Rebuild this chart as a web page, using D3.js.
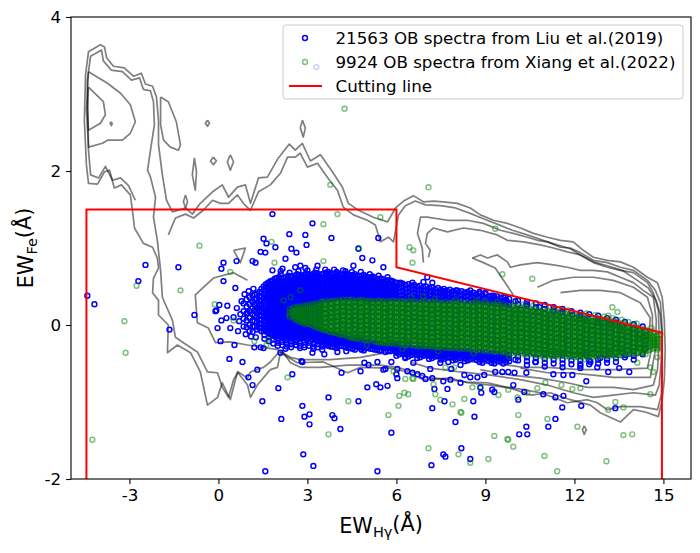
<!DOCTYPE html>
<html>
<head>
<meta charset="utf-8">
<title>EW Hgamma vs EW Fe</title>
<script src="https://cdn.jsdelivr.net/npm/d3@7"></script>
<style>
  body { margin: 0; background: #fff; }
  text { font-family: "DejaVu Sans", sans-serif; }
</style>
</head>
<body>
<script>
// ---- data ----
var xTicks = [-3, 0, 3, 6, 9, 12, 15];
var yTicks = [-2, 0, 2, 4];

var legendLabels = [
  "21563 OB spectra from Liu et al.(2019)",
  "9924 OB spectra from Xiang et al.(2022)",
  "Cutting line"
];

// red cutting line vertices (EW_Hg, EW_Fe)
var cutLine = [[-4.45, -2], [-4.45, 1.5], [6, 1.5], [6, 0.75], [14.95, -0.1], [14.95, -2]];

// density contour lines
var contours = [
  [[-4.45,2.08],[-4.52,2.66],[-4.48,3.25],[-4.38,3.55],[-3.98,3.64],[-3.84,3.61],[-3.77,3.47],[-3.54,3.36],[-3.17,3.34],[-2.86,3.23],[-2.60,3.27],[-2.46,3.13],[-2.22,3.10],[-2.09,2.96],[-2.02,2.66],[-2.02,2.34],[-1.89,1.95],[-1.75,1.62],[-1.55,1.47],[-1.11,1.52],[-0.88,1.44],[-0.61,1.58],[-0.20,1.73],[0.13,1.82],[0.34,1.66],[0.64,1.79],[0.91,1.82],[1.08,1.58],[1.35,1.91],[1.65,1.92],[2.02,2.17],[2.39,2.35],[2.59,2.27],[2.83,2.36],[3.10,2.13],[3.44,2.21],[3.84,1.99],[4.18,1.79],[4.38,1.58],[4.72,1.49],[5.22,1.40],[5.70,1.34],[5.97,1.52],[6.24,1.61],[6.57,1.68],[6.91,1.60],[7.25,1.61],[7.58,1.60],[8.05,1.58],[8.49,1.52],[8.83,1.43],[9.27,1.36],[9.74,1.32],[10.18,1.26],[10.62,1.19],[11.09,1.14],[11.53,1.10],[11.96,1.08],[12.30,0.97],[12.64,0.88],[13.11,0.84],[13.55,0.82],[13.99,0.75],[14.46,0.62],[14.80,0.55],[14.96,0.36],[15.03,0.06],[15.06,-0.32],[15.03,-0.71],[14.96,-0.97],[14.83,-1.19],[14.39,-1.13],[13.99,-1.10],[13.55,-1.26],[12.87,-1.14],[12.54,-1.04],[11.86,-0.97],[11.19,-0.88],[10.52,-0.91],[9.84,-0.82],[9.17,-0.78],[8.39,-0.75],[7.82,-0.69],[6.91,-0.71],[6.37,-0.61],[5.80,-0.56],[4.79,-0.55],[4.35,-0.62],[3.54,-0.48],[2.66,-0.49],[2.09,-0.36],[1.99,-0.55],[1.75,-0.58],[1.31,-0.78],[1.08,-0.94],[0.98,-0.78],[0.64,-0.61],[0.40,-0.97],[0.13,-0.75],[-0.03,-0.94],[-0.37,-1.04],[-0.61,-0.61],[-0.94,-0.36],[-1.38,-0.26],[-1.72,-0.36],[-1.69,0.00],[-2.02,0.13],[-2.02,0.32],[-2.22,0.42],[-2.19,0.61],[-2.02,0.74],[-2.06,0.87],[-2.22,1.01],[-2.53,1.06],[-2.83,1.26],[-2.90,1.49],[-2.97,1.69],[-3.27,1.82],[-3.51,1.78],[-3.67,2.01],[-3.84,1.99],[-4.08,1.83],[-4.38,1.84],[-4.45,2.08]],
  [[-2.80,1.62],[-3.03,1.81],[-3.30,1.91],[-3.57,1.88],[-3.81,2.06],[-4.04,1.91],[-4.31,1.95],[-4.38,2.27],[-4.42,3.18],[-4.31,3.49],[-3.94,3.57],[-3.88,3.43],[-3.61,3.31],[-3.24,3.29],[-2.93,3.18],[-2.66,3.21],[-2.53,3.06],[-2.29,3.04],[-2.19,2.90],[-2.16,2.60],[-2.29,2.27],[-2.39,2.01],[-2.29,1.92],[-2.12,1.66],[-2.19,1.40],[-2.06,1.10],[-1.95,0.71],[-1.89,0.36],[-1.55,0.06],[-1.45,-0.16],[-1.18,-0.23],[-0.71,-0.35],[-0.37,-0.61],[-0.03,-0.62],[0.13,-0.81],[0.34,-0.94],[0.51,-0.71],[0.67,-0.61],[0.98,-0.69],[1.08,-0.61],[1.52,-0.55],[1.75,-0.48],[2.02,-0.36],[2.19,-0.36],[2.43,-0.49],[2.76,-0.55],[3.44,-0.55],[4.35,-0.52],[5.46,-0.52],[6.03,-0.55],[6.57,-0.61],[7.04,-0.68],[7.72,-0.71],[8.39,-0.74],[9.07,-0.75],[9.74,-0.81],[10.28,-0.84],[10.85,-0.88],[11.29,-0.94],[11.76,-1.01],[12.44,-0.97],[12.77,-1.01],[13.11,-1.10],[13.55,-1.06],[14.22,-1.06],[14.80,-1.10],[14.93,-0.91],[14.96,-0.58],[14.96,-0.19],[14.90,0.13],[14.76,0.32],[14.49,0.48],[14.12,0.58],[13.61,0.71],[13.11,0.77],[12.64,0.82],[12.20,0.91],[11.86,0.99],[11.42,1.04],[11.02,1.09],[10.41,1.17],[9.91,1.23],[9.40,1.31],[8.93,1.38],[8.49,1.45],[7.99,1.52],[7.48,1.55],[6.98,1.56],[6.64,1.61],[6.30,1.55],[6.07,1.43],[5.90,1.08],[5.73,1.14],[5.46,1.08],[5.29,1.30],[5.02,1.36],[4.55,1.43],[4.21,1.53],[4.01,1.75],[3.67,1.92],[3.34,2.10],[3.00,2.05],[2.76,2.23],[2.59,2.18],[2.33,2.18],[2.09,1.97],[1.75,1.82],[1.35,1.73],[1.08,1.49],[0.84,1.58],[0.64,1.69],[0.34,1.58],[0.07,1.58],[-0.20,1.62],[-0.51,1.49],[-0.84,1.39],[-1.11,1.44],[-1.45,1.39],[-1.69,1.17]],
  [[-4.38,3.29],[-3.74,3.14],[-3.30,3.01],[-2.97,2.86],[-2.80,2.64],[-2.97,2.49],[-3.24,2.40],[-3.74,2.40],[-3.91,2.36],[-4.38,2.31],[-4.45,2.79],[-4.38,3.29]],
  [[-4.38,3.09],[-3.88,2.90],[-3.81,2.73],[-3.98,2.62],[-4.38,2.53],[-4.42,2.82],[-4.38,3.09]],
  [[-3.63,2.64],[-3.58,2.62],[-3.61,2.59],[-3.65,2.62],[-3.63,2.64]],
  [[0.98,0.58],[0.51,0.68],[-0.17,0.61],[-0.78,0.39],[-0.71,0.03],[-0.34,-0.04],[-0.10,-0.23],[0.40,-0.22],[0.98,-0.26],[1.52,-0.29],[1.99,-0.32],[2.43,-0.42],[2.76,-0.45],[3.77,-0.45],[4.79,-0.42],[5.80,-0.35],[6.81,-0.39]],
  [[0.51,0.97],[0.91,1.00],[0.74,0.81],[0.51,0.97]],
  [[6.91,0.81],[6.87,1.00],[6.71,1.19],[6.81,1.40],[7.04,1.40],[7.72,1.36],[8.39,1.36],[8.93,1.32],[9.50,1.23],[9.94,1.19],[10.41,1.14],[10.75,1.10],[11.09,1.08],[11.53,1.01],[11.86,1.00],[12.20,0.94],[12.64,0.84],[13.11,0.81],[13.55,0.75],[13.99,0.71],[14.46,0.58],[14.73,0.45],[14.90,0.29],[14.96,-0.06],[14.93,-0.45],[14.86,-0.78],[14.73,-0.91],[13.99,-0.88],[13.31,-0.91],[12.64,-0.94],[11.96,-0.88],[11.09,-0.78],[10.18,-0.71],[9.17,-0.65],[8.16,-0.61],[7.14,-0.56],[6.47,-0.48]],
  [[7.08,0.88],[7.14,0.97],[6.98,1.06],[7.04,1.19],[7.25,1.26],[7.72,1.21],[8.26,1.26],[8.83,1.23],[9.40,1.17],[9.74,1.10],[10.28,1.08],[10.85,1.04],[11.29,1.00],[11.76,0.95],[12.20,0.91],[12.64,0.81],[13.11,0.75],[13.55,0.71],[13.99,0.68],[14.46,0.55],[14.66,0.42],[14.83,0.19],[14.86,-0.19],[14.80,-0.58],[14.66,-0.78],[13.99,-0.84],[13.31,-0.81],[12.44,-0.81],[11.76,-0.75],[10.85,-0.69],[9.84,-0.65],[8.83,-0.58]],
  [[8.56,0.87],[8.83,0.91],[9.07,0.87],[9.40,0.91],[9.74,0.82],[9.84,0.75],[10.18,0.78],[10.75,0.81],[11.29,0.78],[11.76,0.75],[12.20,0.71],[12.64,0.71],[13.11,0.69],[13.55,0.62],[13.99,0.55],[14.32,0.45],[14.66,0.36],[14.76,0.06],[14.73,-0.32],[14.56,-0.68],[14.22,-0.68],[13.31,-0.68],[12.64,-0.65],[11.76,-0.62],[11.09,-0.62],[10.18,-0.56]],
  [[8.56,0.87],[8.93,0.81],[9.33,0.74],[9.61,0.58],[9.94,0.39]],
  [[10.75,0.49],[11.29,0.58],[11.96,0.62],[12.64,0.62],[13.31,0.58],[13.99,0.49],[14.46,0.36],[14.63,0.13],[14.63,-0.26],[14.46,-0.56],[13.31,-0.58],[12.20,-0.58],[11.09,-0.55],[10.28,-0.55],[9.74,-0.52],[8.83,-0.49],[7.72,-0.45],[6.91,-0.42],[6.13,-0.30],[5.46,-0.29]],
  [[11.53,0.42],[12.20,0.45],[12.87,0.45],[13.55,0.42],[14.22,0.29],[14.56,0.09],[14.49,-0.19],[14.22,-0.39],[13.55,-0.42],[12.87,-0.40],[12.20,-0.39],[11.53,-0.35]],
  [[-0.81,2.17],[-0.74,1.99],[-0.78,1.75],[-0.88,1.95],[-0.81,2.17]],
  [[-0.17,2.18],[-0.07,2.13],[-0.17,2.08],[-0.27,2.13],[-0.17,2.18]],
  [[0.40,2.21],[0.51,2.12],[0.40,2.01],[0.30,2.12],[0.40,2.21]],
  [[-0.37,2.66],[-0.30,2.62],[-0.37,2.58],[-0.44,2.62],[-0.37,2.66]],
  [[2.83,2.66],[2.93,2.56],[2.86,2.44],[2.76,2.56],[2.83,2.66]],
  [[-1.95,2.96],[-1.69,2.90],[-1.42,2.64],[-1.28,2.34],[-1.35,2.27],[-1.62,2.31],[-1.85,2.40],[-1.95,2.60],[-1.95,2.96]],
  [[-1.11,1.69],[-1.04,1.60],[-1.11,1.52],[-1.18,1.60],[-1.11,1.69]],
  [[12.33,-1.31],[12.40,-1.36],[12.33,-1.42],[12.27,-1.36],[12.33,-1.31]]
];

// Liu et al. (2019) - individual points
var liuPoints = [
  [-4.42,0.38],[-4.18,0.27],[-2.70,0.57],[-2.46,0.78],[-1.35,0.75],[-1.65,-0.06],[-0.81,0.13],[1.82,1.44],[2.39,1.18],[2.93,1.17],
  [1.52,1.12],[1.62,1.06],[1.92,1.01],[1.42,0.95],[1.58,0.94],[2.46,0.99],[2.63,0.94],[0.17,0.81],[0.10,0.73],[0.61,0.83],
  [1.15,0.83],[1.25,0.81],[1.82,0.71],[2.16,0.73],[2.59,0.75],[2.76,0.77],[2.93,0.74],[0.17,0.57],[0.57,0.48],[0.03,0.26],
  [0.30,0.25],[-0.07,0.19],[0.10,0.06],[-0.03,-0.04],[0.27,0.09],[0.51,0.10],[0.74,0.14],[0.54,-0.26],[0.07,-0.21],[0.37,-0.44],
  [0.81,-0.48],[1.01,-0.68],[1.15,-0.78],[2.02,-0.82],[2.49,-0.64],[2.80,-0.47],[3.17,1.32],[3.81,1.13],[2.97,1.04],[2.26,0.86],
  [4.85,0.87],[5.19,0.84],[5.39,1.13],[5.56,0.75],[4.72,0.99],[3.34,0.77],[3.98,0.69],[4.28,0.70],[4.55,0.77],[-0.10,0.18],
  [0.40,-0.04],[0.98,0.16],[1.21,-0.29],[1.42,-0.29],[1.52,-0.30],[2.09,-0.36],[2.26,-0.31],[2.63,-0.26],[2.83,-0.48],[3.17,-0.36],
  [3.57,-0.38],[4.01,-0.35],[4.15,-0.62],[4.31,-0.34],[4.55,-0.23],[4.92,-0.49],[5.06,-0.52],[5.36,-0.48],[5.56,-0.58],[5.83,-0.48],
  [1.31,-0.58],[1.48,-0.99],[2.12,-1.22],[2.83,-1.05],[2.90,-1.19],[3.07,-1.16],[3.07,-1.29],[3.71,-0.94],[3.84,-1.17],[3.91,-1.21],
  [4.11,-1.35],[4.72,-0.99],[5.02,-0.81],[5.32,-0.77],[5.46,-0.81],[6.03,-0.69],[5.83,-1.40],[2.86,-1.68],[3.20,-1.83],[1.58,-1.90],
  [5.36,-1.90],[7.21,-1.08],[7.18,-1.82],[7.58,-1.68],[7.65,-1.71],[8.19,-1.60],[7.99,-1.26],[8.63,-1.19],[8.86,-0.88],[8.49,-0.68],
  [8.16,-0.75],[7.82,-0.71],[7.58,-0.73],[7.21,-0.69],[6.87,-0.66],[4.79,-0.60],[5.63,-0.57],[6.00,-0.64],[6.37,-0.60],[6.54,-0.62],
  [6.71,-0.64],[7.14,-0.57],[7.85,-0.57],[8.29,-0.65],[7.62,-0.99],[7.72,-0.83],[8.59,-0.99],[8.49,-1.74],[10.14,-1.42],[10.41,-1.42],
  [10.38,-1.32],[11.12,-1.32],[11.36,-1.22],[11.59,-1.07],[12.23,-1.05],[13.38,-1.08],[13.14,-0.61],[12.40,-0.73],[11.36,-0.94],[11.63,-0.92],
  [10.95,-0.90],[10.31,-0.87],[10.11,-0.97],[9.94,-0.78],[9.30,-0.87],[9.23,-0.84],[8.83,-0.81],[7.28,-0.83],[6.98,-0.70],[5.70,-0.79],
  [13.85,-0.61],[13.51,-0.56],[12.77,-0.55],[12.20,-0.53],[11.93,-0.65],[11.63,-0.65],[11.29,-0.64],[10.38,-0.62],[9.98,-0.62],[9.77,-0.61],
  [9.57,-0.61],[9.33,-0.61],[8.96,-0.65],[8.73,-0.68],[8.16,-0.52],[7.75,-0.48],[7.48,-0.49],[6.57,-0.49],[6.30,-0.43],[6.00,-0.35],
  [5.63,-0.35],[6.03,-0.57],[3.30,3.35],[5.70,0.58],[6.13,0.55],[6.54,0.55],[6.91,0.56],[7.21,0.55],[7.58,0.44],[8.05,0.45],
  [8.49,0.45],[8.80,0.43],[9.00,0.42],[9.27,0.38],[9.67,0.36],[10.01,0.31],[10.38,0.27],[10.82,0.23],[11.29,0.17],[11.53,0.16],
  [11.93,0.13],[12.33,0.08],[12.77,0.03],[13.21,0.00],[13.55,-0.04],[14.32,-0.16],[7.04,0.62],[12.87,-0.43],[13.72,-0.39],[14.39,-0.30],
  [10.68,-0.48],[10.01,-0.45],[8.49,-0.39],[7.14,-0.35],[12.54,-0.48],
  [0.62,0.22],[0.70,0.05],[0.78,0.31],[0.66,-0.08],[0.88,0.40],[0.92,-0.12],[1.02,0.44],[1.10,-0.15],[1.18,0.47],[1.26,-0.16]
];

// Liu et al. (2019) - dense core, one column per EW_Hg value: [x, y, y, ...]
var liuCore = [
  [0.85,.28,.18,.08,-.02],[0.95,.33,.24,.15,.06,-.03],[1.05,.36,.27,.18,.09,.00,-.08],
  [1.15,.38,.30,.22,.14,.06,-.02,-.09],[1.22,.40,.33,.26,.19,.12,.05,-.02],
  [1.30,.40,.34,.28,.22,.16,.10,.04,-.02,-.06],
  [1.375,.43,.37,.31,.25,.19,.13,.07,.01,-.04],
  [1.45,.47,.42,.37,.32,.27,.22,.17,.12,.07,.02,-.03,-.08],
  [1.525,.50,.45,.40,.35,.30,.25,.20,.15,.10,.05,.00,-.05,-.08],
  [1.60,.53,.49,.45,.41,.37,.33,.29,.25,.21,.17,.13,.09,.05,.01,-.03,-.08],
  [1.675,.55,.51,.47,.43,.39,.35,.31,.27,.23,.19,.15,.11,.07,.03,-.01,-.05,-.10],
  [1.75,.57,.53,.49,.45,.41,.37,.33,.29,.25,.21,.17,.13,.09,.05,.01,-.03,-.07,-.12],
  [1.825,.58,.54,.50,.46,.42,.38,.34,.30,.26,.22,.18,.14,.10,.06,.02,-.02,-.06,-.10,-.13],
  [1.90,.60,.56,.52,.48,.44,.40,.36,.32,.28,.24,.20,.16,.12,.08,.04,.00,-.04,-.08,-.12,-.15],
  [1.975,.61,.57,.53,.49,.45,.41,.37,.33,.29,.25,.21,.17,.13,.09,.05,.01,-.03,-.07,-.11,-.15],
  [2.05,.62,.58,.54,.50,.46,.42,.38,.34,.30,.26,.22,.18,.14,.10,.06,.02,-.02,-.06,-.10,-.14],
  [2.125,.60,.56,.52,.48,.44,.40,.36,.32,.28,.24,.20,.16,.12,.08,.04,.00,-.04,-.08,-.12,-.16],
  [2.20,.61,.57,.53,.49,.45,.41,.37,.33,.29,.25,.21,.17,.13,.09,.05,.01,-.03,-.07,-.11,-.15,-.18],
  [2.275,.62,.58,.54,.50,.46,.42,.38,.34,.30,.26,.22,.18,.14,.10,.06,.02,-.02,-.06,-.10,-.14,-.17],
  [2.35,.64,.60,.56,.52,.48,.44,.40,.36,.32,.28,.24,.20,.16,.12,.08,.04,.00,-.04,-.08,-.12,-.15],
  [2.425,.63,.59,.55,.51,.47,.43,.39,.35,.31,.27,.23,.19,.15,.11,.07,.03,-.01,-.05,-.09,-.13,-.16],
  [2.50,.62,.58,.54,.50,.46,.42,.38,.34,.30,.26,.22,.18,.14,.10,.06,.02,-.02,-.06,-.10,-.14,-.17],
  [2.575,.64,.60,.56,.52,.48,.44,.40,.36,.32,.28,.24,.20,.16,.12,.08,.04,.00,-.04,-.08,-.12,-.16],
  [2.65,.66,.62,.58,.54,.50,.46,.42,.38,.34,.30,.26,.22,.18,.14,.10,.06,.02,-.02,-.06,-.10,-.14,-.19],
  [2.725,.65,.61,.57,.53,.49,.45,.41,.37,.33,.29,.25,.21,.17,.13,.09,.05,.01,-.03,-.07,-.11,-.15,-.18],
  [2.80,.63,.59,.55,.51,.47,.43,.39,.35,.31,.27,.23,.19,.15,.11,.07,.03,-.01,-.05,-.09,-.13,-.16],
  [2.875,.65,.61,.57,.53,.49,.45,.41,.37,.33,.29,.25,.21,.17,.13,.09,.05,.01,-.03,-.07,-.11,-.15,-.17],
  [2.95,.67,.63,.59,.55,.51,.47,.43,.39,.35,.31,.27,.23,.19,.15,.11,.07,.03,-.01,-.05,-.09,-.13,-.18],
  [3.025,.66,.62,.58,.54,.50,.46,.42,.38,.34,.30,.26,-.02,-.06,-.10,-.14,-.18],
  [3.10,.64,.60,.56,.52,.48,.44,.40,.36,.32,.28,.24,.20,.16,.12,.08,.04,.00,-.04,-.08,-.12,-.16,-.21],
  [3.175,.66,.62,.58,.54,.50,.46,.42,.38,.34,.30,-.03,-.07,-.11,-.15,-.19],
  [3.25,.68,.64,.60,.56,.52,.48,.44,.40,.36,.32,.28,.24,.20,.16,.12,.08,.04,.00,-.04,-.08,-.12,-.17],
  [3.325,.67,.63,.59,.55,.51,.47,.43,.39,.35,.31,-.05,-.09,-.13,-.17,-.21],
  [3.40,.65,.61,.57,.53,.49,.45,.41,.37,.33,.29,.25,.21,.17,.13,.09,.05,.01,-.03,-.07,-.11,-.15,-.20],
  [3.475,.66,.62,.58,.54,.50,.46,.42,.38,.34,-.06,-.10,-.14,-.18,-.22],
  [3.55,.66,.62,.58,.54,.50,.46,.42,.38,.34,-.09,-.13,-.17,-.21,-.25],
  [3.625,.68,.64,.60,.56,.52,.48,.44,.40,.36,-.10,-.14,-.18,-.22,-.26],
  [3.70,.69,.65,.61,.57,.53,.49,.45,.41,.37,.34,-.11,-.15,-.19,-.23,-.27],
  [3.775,.67,.63,.59,.55,.51,.47,.43,.39,.35,-.12,-.16,-.20,-.24,-.28],
  [3.85,.66,.62,.58,.54,.50,.46,.42,.38,.35,-.12,-.16,-.20,-.24,-.28],
  [3.925,.67,.63,.59,.55,.51,.47,.43,.39,.35,-.13,-.17,-.21,-.25,-.29],
  [4.00,.68,.64,.60,.56,.52,.48,.44,.40,.36,-.14,-.18,-.22,-.26,-.30],
  [4.075,.66,.62,.58,.54,.50,.46,.42,.38,.35,-.15,-.19,-.23,-.27],
  [4.15,.65,.61,.57,.53,.49,.45,.41,.37,.35,-.15,-.19,-.23,-.27],
  [4.225,.66,.62,.58,.54,.50,.46,.42,.38,.35,-.16,-.20,-.24,-.28],
  [4.30,.67,.63,.59,.55,.51,.47,.43,.39,.36,-.17,-.21,-.25,-.29],
  [4.375,.65,.61,.57,.53,.49,.45,.41,.37,-.18,-.22,-.26,-.30],
  [4.45,.64,.60,.56,.52,.48,.44,.40,.36,-.18,-.22,-.26,-.30],
  [4.525,.65,.61,.57,.53,.49,.45,.41,.37,-.19,-.23,-.27,-.31],
  [4.60,.66,.62,.58,.54,.50,.46,.42,.38,.35,-.20,-.24,-.28,-.32],
  [4.675,.64,.60,.56,.52,.48,.44,.40,.36,-.20,-.24,-.28],
  [4.75,.63,.59,.55,.51,.47,.43,.39,.35,-.21,-.25,-.29],
  [4.825,.64,.60,.56,.52,.48,.44,.40,.36,-.21,-.25,-.29,-.32],
  [4.90,.65,.61,.57,.53,.49,.45,.41,.37,.34,-.22,-.26,-.30,-.33],
  [4.975,.63,.59,.55,.51,.47,.43,.39,.35,-.22,-.26,-.30],
  [5.05,.61,.57,.53,.49,.45,.41,.37,.34,-.22,-.26,-.30],
  [5.125,.62,.58,.54,.50,.46,.42,.38,.34,-.23,-.27,-.31],
  [5.20,.63,.59,.55,.51,.47,.43,.39,.35,-.23,-.27,-.31],
  [5.275,.61,.57,.53,.49,.45,.41,.37,.34,-.24,-.28,-.32],
  [5.35,.59,.55,.51,.47,.43,.39,.35,-.24,-.28,-.32],
  [5.425,.60,.56,.52,.48,.44,.40,.36,-.25,-.29,-.33],
  [5.50,.60,.56,.52,.48,.44,.40,.36,.33,-.25,-.29,-.33],
  [5.575,.59,.55,.51,.47,.43,.39,.35,-.26,-.30],
  [5.65,.57,.53,.49,.45,.41,.37,.34,-.26,-.30],
  [5.725,.58,.54,.50,.46,.42,.38,.34,-.26,-.30,-.34],
  [5.80,.58,.54,.50,.46,.42,.38,.34,-.26,-.30,-.34],
  [5.875,.57,.53,.49,.45,.41,.37,.34,-.27,-.31],
  [5.95,.55,.51,.47,.43,.39,.35,-.27,-.31],
  [6.0,.55,.50,.45,.40,.35,-.28,-.32,-.36,-.40],
  [6.1,.53,.48,.43,.38,.34,-.30,-.34,-.38],
  [6.2,.54,.49,.44,.39,.34,-.29,-.33,-.37],
  [6.3,.52,.47,.42,.37,.33,-.30,-.34,-.38,-.42],
  [6.4,.53,.48,.43,.38,.34,-.29,-.33,-.37,-.41],
  [6.5,.51,.46,.41,.36,.33,-.31,-.35,-.39],
  [6.6,.52,.47,.42,.37,.33,-.30,-.34,-.38],
  [6.7,.50,.45,.40,.35,-.31,-.35,-.39,-.43],
  [6.8,.51,.46,.41,.36,.33,-.30,-.34,-.38,-.42],
  [6.9,.49,.44,.39,.34,-.32,-.36,-.40],
  [7.0,.50,.45,.40,.35,-.31,-.35,-.39],
  [7.1,.48,.43,.38,.33,-.32,-.36,-.40,-.44],
  [7.2,.49,.44,.39,.34,-.31,-.35,-.39,-.43],
  [7.3,.47,.42,.37,.33,-.33,-.37,-.41],
  [7.4,.48,.43,.38,.33,-.32,-.36,-.40],
  [7.5,.46,.41,.36,.32,-.33,-.37,-.41,-.45],
  [7.6,.47,.42,.37,.33,-.32,-.36,-.40,-.44],
  [7.7,.45,.40,.35,.32,-.34,-.38,-.42],
  [7.8,.46,.41,.36,.32,-.33,-.37,-.41],
  [7.9,.44,.39,.34,-.34,-.38,-.42,-.46],
  [8.0,.45,.40,.35,.32,-.33,-.37,-.41,-.45],
  [8.1,.43,.38,.33,-.35,-.39,-.43],
  [8.2,.44,.39,.34,-.34,-.38,-.42],
  [8.3,.42,.37,.32,-.35,-.39,-.43,-.47],
  [8.4,.43,.38,.33,-.34,-.38,-.42,-.46],
  [8.5,.41,.36,.31,-.36,-.40,-.44],
  [8.6,.42,.37,.32,-.35,-.39,-.43],
  [8.7,.40,.35,.31,-.37,-.41,-.45],
  [8.8,.41,.36,.31,-.36,-.40,-.44,-.48],
  [8.9,.39,.34,.30,-.37,-.41,-.45,-.49],
  [9.0,.40,.35,.30,-.36,-.40,-.44],
  [9.1,.37,.33,.29,-.38,-.42,-.46],
  [9.2,.38,.33,.29,-.37,-.41,-.45,-.49],
  [9.3,.36,.32,.28,-.38,-.42,-.46,-.50],
  [9.4,.37,.32,.28,-.38,-.42,-.46],
  [9.5,.35,.30,-.39,-.43,-.47],
  [9.6,.36,.31,.27,-.38,-.42,-.46,-.50],
  [9.7,.33,.28,-.40,-.44,-.48],
  [9.8,.34,.29,.26,-.39,-.43,-.47],
  [10.1,.32,.27,-.41,-.46],[10.4,.30,.25,-.42,-.47,-.52],[10.7,.28,.23,-.43,-.48],
  [11.0,.26,.21,-.44,-.49,-.54],[11.3,.23,.19,-.45,-.50],[11.6,.21,.17,-.45,-.50,-.55],
  [11.9,.18,-.46,-.51],[12.2,.16,.12,-.46,-.51,-.56],[12.5,.14,-.46,-.51],
  [12.8,.12,.08,-.45,-.50],[13.1,.09,-.45,-.49],[13.4,.07,.03,-.43,-.48],
  [13.7,.04,-.42],[14.0,.01,-.40,-.45],[14.3,-.02,-.38],
  // lower and upper fringe of the left cloud
  [1.55,-.13,-.18],[1.70,-.16,-.21],[1.85,-.19,-.24],[2.0,-.19,-.23,-.27],[2.15,-.22,-.26],
  [2.3,-.20,-.24,-.28],[2.45,-.21,-.25,-.29],[2.6,-.22,-.26],[2.75,-.23,-.27,-.30],[2.9,-.22,-.26,-.29],
  [3.05,-.23,-.27],[3.2,-.24,-.28,-.31],[3.35,-.25,-.29],[3.5,-.28,-.32],
  [2.1,.66,.70],[2.4,.68],[2.7,.70],[3.0,.71],[3.3,.72],[3.6,.72],[3.9,.72],[4.2,.71],[4.5,.69],
  [4.8,.69],[5.1,.66],[5.4,.64],[5.7,.62],
  // under the green band
  [3.6,.27,.21,.15,.09,.03,-.03],[3.8,.28,.22,.16,.10,.04,-.02,-.08],[4.0,.29,.23,.17,.11,.05,-.01,-.07],
  [4.2,.30,.24,.18,.12,.06,.00,-.06,-.12],[4.4,.29,.23,.17,.11,.05,-.01,-.07,-.13],
  [4.6,.30,.24,.18,.12,.06,.00,-.06,-.12,-.16],[4.8,.29,.23,.17,.11,.05,-.01,-.07,-.13,-.17],
  [5.0,.30,.24,.18,.12,.06,.00,-.06,-.12,-.18],[5.2,.29,.23,.17,.11,.05,-.01,-.07,-.13,-.19],
  [5.4,.29,.23,.17,.11,.05,-.01,-.07,-.13,-.19],[5.6,.28,.22,.16,.10,.04,-.02,-.08,-.14,-.20],
  [5.8,.29,.23,.17,.11,.05,-.01,-.07,-.13,-.19,-.23],[6.0,.28,.22,.16,.10,.04,-.02,-.08,-.14,-.20,-.24],
  [6.2,.28,.22,.16,.10,.04,-.02,-.08,-.14,-.20,-.25],[6.4,.27,.21,.15,.09,.03,-.03,-.09,-.15,-.21,-.25],
  [6.6,.28,.22,.16,.10,.04,-.02,-.08,-.14,-.20,-.26],[6.8,.27,.21,.15,.09,.03,-.03,-.09,-.15,-.21,-.26],
  [7.0,.27,.21,.15,.09,.03,-.03,-.09,-.15,-.21,-.27],[7.2,.26,.20,.14,.08,.02,-.04,-.10,-.16,-.22,-.27],
  [7.4,.27,.21,.15,.09,.03,-.03,-.09,-.15,-.21,-.27],[7.6,.26,.20,.14,.08,.02,-.04,-.10,-.16,-.22,-.28],
  [7.8,.26,.20,.14,.08,.02,-.04,-.10,-.16,-.22,-.28],[8.0,.25,.19,.13,.07,.01,-.05,-.11,-.17,-.23,-.29],
  [8.2,.26,.20,.14,.08,.02,-.04,-.10,-.16,-.22,-.28],[8.4,.25,.19,.13,.07,.01,-.05,-.11,-.17,-.23,-.29],
  [8.6,.24,.18,.12,.06,.00,-.06,-.12,-.18,-.24,-.30],[8.8,.25,.19,.13,.07,.01,-.05,-.11,-.17,-.23,-.29],
  [9.0,.24,.18,.12,.06,.00,-.06,-.12,-.18,-.24,-.30],[9.2,.23,.17,.11,.05,-.01,-.07,-.13,-.19,-.25,-.31],
  [9.4,.22,.16,.10,.04,-.02,-.08,-.14,-.20,-.26,-.32],[9.6,.23,.17,.11,.05,-.01,-.07,-.13,-.19,-.25,-.31],
  [9.8,.21,.15,.09,.03,-.03,-.09,-.15,-.21,-.27,-.33],[10.0,.20,.14,.08,.02,-.04,-.10,-.16,-.22,-.28,-.34],
  [10.2,.20,.14,.08,.02,-.04,-.10,-.16,-.22,-.28,-.34],[10.4,.19,.13,.07,.01,-.05,-.11,-.17,-.23,-.29,-.35],
  [10.6,.18,.12,.06,.00,-.06,-.12,-.18,-.24,-.30,-.36],[10.8,.17,.11,.05,-.01,-.07,-.13,-.19,-.25,-.31,-.37],
  [11.0,.15,.09,.03,-.03,-.09,-.15,-.21,-.27,-.33,-.37],[11.2,.14,.08,.02,-.04,-.10,-.16,-.22,-.28,-.34,-.38],
  [11.4,.13,.07,.01,-.05,-.11,-.17,-.23,-.29,-.35,-.38],[11.6,.12,.06,.00,-.06,-.12,-.18,-.24,-.30,-.36,-.39],
  [11.8,.10,.04,-.02,-.08,-.14,-.20,-.26,-.32,-.38],[12.0,.09,.03,-.03,-.09,-.15,-.21,-.27,-.33,-.39],
  [12.2,.08,.02,-.04,-.10,-.16,-.22,-.28,-.34,-.39],[12.4,.06,.00,-.06,-.12,-.18,-.24,-.30,-.36,-.39],
  [12.6,.05,-.01,-.07,-.13,-.19,-.25,-.31,-.37],[12.8,.04,-.02,-.08,-.14,-.20,-.26,-.32,-.38],
  [13.0,.03,-.03,-.09,-.15,-.21,-.27,-.33,-.38],[13.2,.02,-.04,-.10,-.16,-.22,-.28,-.34,-.37],
  [13.4,.00,-.06,-.12,-.18,-.24,-.30,-.36],[13.6,-.01,-.07,-.13,-.19,-.25,-.31,-.35],
  [13.8,-.03,-.09,-.15,-.21,-.27,-.33],[14.0,-.05,-.11,-.17,-.23,-.29,-.34],
  [14.2,-.06,-.12,-.18,-.24,-.30],[14.4,-.08,-.14,-.20,-.26,-.31]
];

// Xiang et al. (2022) - individual points
var xiangPoints = [
  [4.25,2.81],[3.77,1.82],[4.01,1.44],[3.54,1.31],[5.46,1.40],[7.08,1.79],[9.33,1.25],[9.57,0.66],[10.58,0.60],[6.44,1.01],
  [6.57,0.97],[6.54,0.81],[13.28,0.23],[13.45,0.17],[13.14,0.12],[13.82,0.04],[4.72,1.00],[3.54,0.83],[-0.64,1.03],[-1.28,0.45],
  [-2.76,0.51],[-3.17,0.05],[-3.13,-0.36],[0.40,0.69],[1.79,1.08],[1.89,0.81],[-0.13,0.27],[0.51,0.06],[4.38,-0.99],[5.73,-1.17],
  [2.33,-0.68],[1.69,-0.19],[1.62,-0.26],[1.21,-0.21],[3.71,-1.42],[6.07,-1.05],[6.10,-0.92],[6.27,-0.88],[6.40,-0.90],[6.30,-0.70],
  [6.54,-0.69],[7.08,-1.60],[8.49,-1.79],[9.10,-1.74],[7.25,-0.77],[8.29,-0.96],[8.16,-1.13],[8.56,-0.81],[8.83,-0.82],[7.95,-0.55],
  [7.65,-0.55],[8.09,-1.68],[9.30,-1.44],[9.74,-1.48],[9.94,-1.58],[10.11,-1.17],[10.99,-1.70],[11.42,-1.90],[11.09,-1.22],[12.10,-1.32],
  [13.08,-1.77],[13.65,-1.43],[13.95,-1.42],[13.38,-1.00],[13.65,-1.07],[13.14,-1.10],[14.56,-0.90],[11.93,-0.83],[12.20,-0.82],[11.56,-0.78],
  [11.02,-0.75],[10.75,-0.82],[10.41,-0.88],[10.08,-0.94],[9.44,-0.91],[9.77,-0.84],[8.19,-1.14],[7.89,-1.03],[7.48,-0.97],[7.31,-0.90],
  [6.57,-0.70],[5.90,-0.60],[-4.25,-1.49],[9.77,-1.49],[14.46,-0.16],[14.66,-0.23],[14.32,-0.36],[14.12,-0.49],[14.56,-0.55],[14.66,-0.61],
  [14.80,-0.42],[2.43,0.36],[2.66,0.22],[2.19,0.32],[2.76,0.45],
  [6.5,.36],[6.9,.37],[7.3,.34],[8.0,.33],[8.7,.32],[9.0,.31],[9.4,.30],[10.0,.28],[10.3,.27],[10.6,.25],
  [11.2,.23],[11.5,.21],[11.8,.19],[12.4,.15],[12.7,.13],[13.0,.11],[13.3,.09],[13.6,.07],[14.1,.02],[14.6,-.04],
  [14.9,-.12],[14.8,-.32],[5.0,-.26],[6.2,-.31],[7.4,-.34],[8.6,-.37],[9.8,-.41],[11.0,-.44],[12.3,-.45],[13.4,-.43],[14.4,-.38]
];

// Xiang et al. (2022) - dense band, one column per EW_Hg value: [x, y, y, ...]
var xiangCore = [
  [2.40,.21,.17,.13,.10],[2.475,.20,.16,.12],
  [2.55,.23,.19,.15,.11,.08],[2.625,.22,.18,.14,.10,.07],
  [2.70,.24,.20,.16,.12,.08,.05],[2.775,.23,.19,.15,.11,.07,.04],
  [2.85,.25,.21,.17,.13,.09,.05,.03],[2.925,.24,.20,.16,.12,.08,.04,.01],
  [3.00,.26,.22,.18,.14,.10,.06,.02],[3.075,.25,.21,.17,.13,.09,.05,.01],
  [3.15,.27,.23,.19,.15,.11,.07,.03,.00],[3.225,.26,.22,.18,.14,.10,.06,.02,-.02],
  [3.30,.28,.24,.20,.16,.12,.08,.04,.00,-.03],[3.375,.27,.23,.19,.15,.11,.07,.03,-.01,-.04],
  [3.45,.30,.26,.22,.18,.14,.10,.06,.02,-.02,-.05],[3.525,.29,.25,.21,.17,.13,.09,.05,.01,-.03,-.06],
  [3.60,.31,.27,.23,.19,.15,.11,.07,.03,-.01,-.05,-.07],[3.675,.29,.25,.21,.17,.13,.09,.05,.01,-.03,-.07],
  [3.75,.31,.27,.23,.19,.15,.11,.07,.03,-.01,-.05,-.09],[3.825,.30,.26,.22,.18,.14,.10,.06,.02,-.02,-.06,-.09],
  [3.90,.32,.28,.24,.20,.16,.12,.08,.04,.00,-.04,-.08,-.10],[3.975,.30,.26,.22,.18,.14,.10,.06,.02,-.02,-.06,-.10],
  [4.05,.32,.28,.24,.20,.16,.12,.08,.04,.00,-.04,-.08,-.12],[4.125,.31,.27,.23,.19,.15,.11,.07,.03,-.01,-.05,-.09,-.12],
  [4.20,.33,.29,.25,.21,.17,.13,.09,.05,.01,-.03,-.07,-.11,-.13],[4.275,.31,.27,.23,.19,.15,.11,.07,.03,-.01,-.05,-.09,-.13],
  [4.35,.33,.29,.25,.21,.17,.13,.09,.05,.01,-.03,-.07,-.11,-.15],[4.425,.31,.27,.23,.19,.15,.11,.07,.03,-.01,-.05,-.09,-.13,-.16],
  [4.50,.33,.29,.25,.21,.17,.13,.09,.05,.01,-.03,-.07,-.11,-.15,-.17],[4.575,.31,.27,.23,.19,.15,.11,.07,.03,-.01,-.05,-.09,-.13,-.17],
  [4.65,.32,.28,.24,.20,.16,.12,.08,.04,.00,-.04,-.08,-.12,-.16,-.18],[4.725,.31,.27,.23,.19,.15,.11,.07,.03,-.01,-.05,-.09,-.13,-.17],
  [4.80,.33,.29,.25,.21,.17,.13,.09,.05,.01,-.03,-.07,-.11,-.15,-.19],[4.875,.31,.27,.23,.19,.15,.11,.07,.03,-.01,-.05,-.09,-.13,-.17],
  [4.95,.32,.28,.24,.20,.16,.12,.08,.04,.00,-.04,-.08,-.12,-.16,-.20],[5.025,.30,.26,.22,.18,.14,.10,.06,.02,-.02,-.06,-.10,-.14,-.18],
  [5.10,.32,.28,.24,.20,.16,.12,.08,.04,.00,-.04,-.08,-.12,-.16,-.20],[5.175,.30,.26,.22,.18,.14,.10,.06,.02,-.02,-.06,-.10,-.14,-.18],
  [5.25,.31,.27,.23,.19,.15,.11,.07,.03,-.01,-.05,-.09,-.13,-.17,-.21],[5.325,.30,.26,.22,.18,.14,.10,.06,.02,-.02,-.06,-.10,-.14,-.18,-.22],
  [5.40,.32,.28,.24,.20,.16,.12,.08,.04,.00,-.04,-.08,-.12,-.16,-.20,-.23],[5.475,.30,.26,.22,.18,.14,.10,.06,.02,-.02,-.06,-.10,-.14,-.18,-.22],
  [5.55,.31,.27,.23,.19,.15,.11,.07,.03,-.01,-.05,-.09,-.13,-.17,-.21,-.23],[5.625,.29,.25,.21,.17,.13,.09,.05,.01,-.03,-.07,-.11,-.15,-.19,-.23],
  [5.70,.31,.27,.23,.19,.15,.11,.07,.03,-.01,-.05,-.09,-.13,-.17,-.21,-.24],[5.775,.29,.25,.21,.17,.13,.09,.05,.01,-.03,-.07,-.11,-.15,-.19,-.23],
  [5.85,.32,.28,.24,.20,.16,.12,.08,.04,.00,-.04,-.08,-.12,-.16,-.20,-.24],[5.925,.29,.25,.21,.17,.13,.09,.05,.01,-.03,-.07,-.11,-.15,-.19,-.23],
  [6.00,.31,.27,.23,.19,.15,.11,.07,.03,-.01,-.05,-.09,-.13,-.17,-.21,-.25],[6.075,.29,.25,.21,.17,.13,.09,.05,.01,-.03,-.07,-.11,-.15,-.19,-.23],
  [6.15,.31,.27,.23,.19,.15,.11,.07,.03,-.01,-.05,-.09,-.13,-.17,-.21,-.25],[6.225,.29,.25,.21,.17,.13,.09,.05,.01,-.03,-.07,-.11,-.15,-.19,-.23],
  [6.30,.31,.27,.23,.19,.15,.11,.07,.03,-.01,-.05,-.09,-.13,-.17,-.21,-.25,-.27],[6.375,.28,.24,.20,.16,.12,.08,.04,.00,-.04,-.08,-.12,-.16,-.20,-.24],
  [6.45,.30,.26,.22,.18,.14,.10,.06,.02,-.02,-.06,-.10,-.14,-.18,-.22,-.26],[6.525,.28,.24,.20,.16,.12,.08,.04,.00,-.04,-.08,-.12,-.16,-.20,-.24],
  [6.60,.31,.27,.23,.19,.15,.11,.07,.03,-.01,-.05,-.09,-.13,-.17,-.21,-.25,-.27],[6.675,.28,.24,.20,.16,.12,.08,.04,.00,-.04,-.08,-.12,-.16,-.20,-.24],
  [6.75,.30,.26,.22,.18,.14,.10,.06,.02,-.02,-.06,-.10,-.14,-.18,-.22,-.26,-.28],[6.825,.28,.24,.20,.16,.12,.08,.04,.00,-.04,-.08,-.12,-.16,-.20,-.24],
  [6.90,.31,.27,.23,.19,.15,.11,.07,.03,-.01,-.05,-.09,-.13,-.17,-.21,-.25,-.28],[6.975,.28,.24,.20,.16,.12,.08,.04,.00,-.04,-.08,-.12,-.16,-.20,-.24,-.27],
  [7.05,.30,.26,.22,.18,.14,.10,.06,.02,-.02,-.06,-.10,-.14,-.18,-.22,-.26,-.28],[7.125,.28,.24,.20,.16,.12,.08,.04,.00,-.04,-.08,-.12,-.16,-.20,-.24,-.27],
  [7.20,.30,.26,.22,.18,.14,.10,.06,.02,-.02,-.06,-.10,-.14,-.18,-.22,-.26,-.29],[7.275,.28,.24,.20,.16,.12,.08,.04,.00,-.04,-.08,-.12,-.16,-.20,-.24,-.27],
  [7.35,.30,.26,.22,.18,.14,.10,.06,.02,-.02,-.06,-.10,-.14,-.18,-.22,-.26,-.29],[7.425,.27,.23,.19,.15,.11,.07,.03,-.01,-.05,-.09,-.13,-.17,-.21,-.25,-.28],
  [7.50,.29,.25,.21,.17,.13,.09,.05,.01,-.03,-.07,-.11,-.15,-.19,-.23,-.27,-.29],[7.575,.27,.23,.19,.15,.11,.07,.03,-.01,-.05,-.09,-.13,-.17,-.21,-.25,-.28],
  [7.65,.30,.26,.22,.18,.14,.10,.06,.02,-.02,-.06,-.10,-.14,-.18,-.22,-.26,-.30],[7.725,.27,.23,.19,.15,.11,.07,.03,-.01,-.05,-.09,-.13,-.17,-.21,-.25,-.29],
  [7.80,.29,.25,.21,.17,.13,.09,.05,.01,-.03,-.07,-.11,-.15,-.19,-.23,-.27,-.30],[7.875,.27,.23,.19,.15,.11,.07,.03,-.01,-.05,-.09,-.13,-.17,-.21,-.25,-.29],
  [7.95,.30,.26,.22,.18,.14,.10,.06,.02,-.02,-.06,-.10,-.14,-.18,-.22,-.26,-.30],[8.025,.27,.23,.19,.15,.11,.07,.03,-.01,-.05,-.09,-.13,-.17,-.21,-.25,-.29],
  [8.10,.29,.25,.21,.17,.13,.09,.05,.01,-.03,-.07,-.11,-.15,-.19,-.23,-.27,-.31],[8.175,.27,.23,.19,.15,.11,.07,.03,-.01,-.05,-.09,-.13,-.17,-.21,-.25,-.29],
  [8.25,.29,.25,.21,.17,.13,.09,.05,.01,-.03,-.07,-.11,-.15,-.19,-.23,-.27,-.31],[8.325,.27,.23,.19,.15,.11,.07,.03,-.01,-.05,-.09,-.13,-.17,-.21,-.25,-.29],
  [8.40,.29,.25,.21,.17,.13,.09,.05,.01,-.03,-.07,-.11,-.15,-.19,-.23,-.27,-.31],[8.475,.26,.22,.18,.14,.10,.06,.02,-.02,-.06,-.10,-.14,-.18,-.22,-.26,-.30],
  [8.55,.28,.24,.20,.16,.12,.08,.04,.00,-.04,-.08,-.12,-.16,-.20,-.24,-.28,-.32],[8.625,.26,.22,.18,.14,.10,.06,.02,-.02,-.06,-.10,-.14,-.18,-.22,-.26,-.30],
  [8.70,.29,.25,.21,.17,.13,.09,.05,.01,-.03,-.07,-.11,-.15,-.19,-.23,-.27,-.31,-.33],[8.775,.26,.22,.18,.14,.10,.06,.02,-.02,-.06,-.10,-.14,-.18,-.22,-.26,-.30],
  [8.85,.28,.24,.20,.16,.12,.08,.04,.00,-.04,-.08,-.12,-.16,-.20,-.24,-.28,-.32],[8.925,.26,.22,.18,.14,.10,.06,.02,-.02,-.06,-.10,-.14,-.18,-.22,-.26,-.30],
  [9.00,.28,.24,.20,.16,.12,.08,.04,.00,-.04,-.08,-.12,-.16,-.20,-.24,-.28,-.32,-.34],[9.075,.25,.21,.17,.13,.09,.05,.01,-.03,-.07,-.11,-.15,-.19,-.23,-.27,-.31],
  [9.15,.27,.23,.19,.15,.11,.07,.03,-.01,-.05,-.09,-.13,-.17,-.21,-.25,-.29,-.33],[9.225,.25,.21,.17,.13,.09,.05,.01,-.03,-.07,-.11,-.15,-.19,-.23,-.27,-.31],
  [9.30,.27,.23,.19,.15,.11,.07,.03,-.01,-.05,-.09,-.13,-.17,-.21,-.25,-.29,-.33,-.35],[9.375,.25,.21,.17,.13,.09,.05,.01,-.03,-.07,-.11,-.15,-.19,-.23,-.27,-.31,-.34],
  [9.45,.26,.22,.18,.14,.10,.06,.02,-.02,-.06,-.10,-.14,-.18,-.22,-.26,-.30,-.34],[9.525,.24,.20,.16,.12,.08,.04,.00,-.04,-.08,-.12,-.16,-.20,-.24,-.28,-.32],
  [9.60,.26,.22,.18,.14,.10,.06,.02,-.02,-.06,-.10,-.14,-.18,-.22,-.26,-.30,-.34,-.36],[9.675,.23,.19,.15,.11,.07,.03,-.01,-.05,-.09,-.13,-.17,-.21,-.25,-.29,-.33],
  [9.75,.25,.21,.17,.13,.09,.05,.01,-.03,-.07,-.11,-.15,-.19,-.23,-.27,-.31,-.35,-.37],[9.825,.22,.18,.14,.10,.06,.02,-.02,-.06,-.10,-.14,-.18,-.22,-.26,-.30,-.34],
  [9.90,.24,.20,.16,.12,.08,.04,.00,-.04,-.08,-.12,-.16,-.20,-.24,-.28,-.32,-.36],[9.975,.22,.18,.14,.10,.06,.02,-.02,-.06,-.10,-.14,-.18,-.22,-.26,-.30,-.34],
  [10.05,.24,.20,.16,.12,.08,.04,.00,-.04,-.08,-.12,-.16,-.20,-.24,-.28,-.32,-.36,-.38],[10.125,.21,.17,.13,.09,.05,.01,-.03,-.07,-.11,-.15,-.19,-.23,-.27,-.31,-.35],
  [10.20,.23,.19,.15,.11,.07,.03,-.01,-.05,-.09,-.13,-.17,-.21,-.25,-.29,-.33,-.37],[10.275,.21,.17,.13,.09,.05,.01,-.03,-.07,-.11,-.15,-.19,-.23,-.27,-.31,-.35],
  [10.35,.23,.19,.15,.11,.07,.03,-.01,-.05,-.09,-.13,-.17,-.21,-.25,-.29,-.33,-.37,-.39],[10.425,.20,.16,.12,.08,.04,.00,-.04,-.08,-.12,-.16,-.20,-.24,-.28,-.32,-.36],
  [10.50,.22,.18,.14,.10,.06,.02,-.02,-.06,-.10,-.14,-.18,-.22,-.26,-.30,-.34,-.38],[10.575,.19,.15,.11,.07,.03,-.01,-.05,-.09,-.13,-.17,-.21,-.25,-.29,-.33,-.37],
  [10.65,.21,.17,.13,.09,.05,.01,-.03,-.07,-.11,-.15,-.19,-.23,-.27,-.31,-.35,-.39],[10.725,.18,.14,.10,.06,.02,-.02,-.06,-.10,-.14,-.18,-.22,-.26,-.30,-.34,-.38],
  [10.80,.20,.16,.12,.08,.04,.00,-.04,-.08,-.12,-.16,-.20,-.24,-.28,-.32,-.36,-.40],[10.875,.18,.14,.10,.06,.02,-.02,-.06,-.10,-.14,-.18,-.22,-.26,-.30,-.34,-.38],
  [10.95,.20,.16,.12,.08,.04,.00,-.04,-.08,-.12,-.16,-.20,-.24,-.28,-.32,-.36,-.40],[11.025,.17,.13,.09,.05,.01,-.03,-.07,-.11,-.15,-.19,-.23,-.27,-.31,-.35,-.39],
  [11.10,.19,.15,.11,.07,.03,-.01,-.05,-.09,-.13,-.17,-.21,-.25,-.29,-.33,-.37,-.40],[11.175,.16,.12,.08,.04,.00,-.04,-.08,-.12,-.16,-.20,-.24,-.28,-.32,-.36,-.39],
  [11.25,.18,.14,.10,.06,.02,-.02,-.06,-.10,-.14,-.18,-.22,-.26,-.30,-.34,-.38,-.41],[11.325,.15,.11,.07,.03,-.01,-.05,-.09,-.13,-.17,-.21,-.25,-.29,-.33,-.37,-.40],
  [11.40,.17,.13,.09,.05,.01,-.03,-.07,-.11,-.15,-.19,-.23,-.27,-.31,-.35,-.39,-.41],[11.475,.14,.10,.06,.02,-.02,-.06,-.10,-.14,-.18,-.22,-.26,-.30,-.34,-.38],
  [11.55,.16,.12,.08,.04,.00,-.04,-.08,-.12,-.16,-.20,-.24,-.28,-.32,-.36,-.40],[11.625,.13,.09,.05,.01,-.03,-.07,-.11,-.15,-.19,-.23,-.27,-.31,-.35,-.39],
  [11.70,.15,.11,.07,.03,-.01,-.05,-.09,-.13,-.17,-.21,-.25,-.29,-.33,-.37,-.41],[11.775,.12,.08,.04,.00,-.04,-.08,-.12,-.16,-.20,-.24,-.28,-.32,-.36,-.40],
  [11.85,.14,.10,.06,.02,-.02,-.06,-.10,-.14,-.18,-.22,-.26,-.30,-.34,-.38,-.42],[11.925,.11,.07,.03,-.01,-.05,-.09,-.13,-.17,-.21,-.25,-.29,-.33,-.37,-.40],
  [12.00,.13,.09,.05,.01,-.03,-.07,-.11,-.15,-.19,-.23,-.27,-.31,-.35,-.39,-.42],[12.075,.10,.06,.02,-.02,-.06,-.10,-.14,-.18,-.22,-.26,-.30,-.34,-.38,-.41],
  [12.15,.12,.08,.04,.00,-.04,-.08,-.12,-.16,-.20,-.24,-.28,-.32,-.36,-.40,-.42],[12.225,.09,.05,.01,-.03,-.07,-.11,-.15,-.19,-.23,-.27,-.31,-.35,-.39],
  [12.30,.11,.07,.03,-.01,-.05,-.09,-.13,-.17,-.21,-.25,-.29,-.33,-.37,-.41],[12.375,.08,.04,.00,-.04,-.08,-.12,-.16,-.20,-.24,-.28,-.32,-.36,-.40],
  [12.45,.10,.06,.02,-.02,-.06,-.10,-.14,-.18,-.22,-.26,-.30,-.34,-.38,-.42],[12.525,.07,.03,-.01,-.05,-.09,-.13,-.17,-.21,-.25,-.29,-.33,-.37,-.40],
  [12.60,.09,.05,.01,-.03,-.07,-.11,-.15,-.19,-.23,-.27,-.31,-.35,-.39,-.42],[12.675,.07,.03,-.01,-.05,-.09,-.13,-.17,-.21,-.25,-.29,-.33,-.37,-.40],
  [12.75,.09,.05,.01,-.03,-.07,-.11,-.15,-.19,-.23,-.27,-.31,-.35,-.39,-.41],[12.825,.06,.02,-.02,-.06,-.10,-.14,-.18,-.22,-.26,-.30,-.34,-.38],
  [12.90,.08,.04,.00,-.04,-.08,-.12,-.16,-.20,-.24,-.28,-.32,-.36,-.40],[12.975,.05,.01,-.03,-.07,-.11,-.15,-.19,-.23,-.27,-.31,-.35,-.39],
  [13.05,.07,.03,-.01,-.05,-.09,-.13,-.17,-.21,-.25,-.29,-.33,-.37,-.41],[13.125,.04,.00,-.04,-.08,-.12,-.16,-.20,-.24,-.28,-.32,-.36,-.39],
  [13.20,.06,.02,-.02,-.06,-.10,-.14,-.18,-.22,-.26,-.30,-.34,-.38,-.40],[13.275,.03,-.01,-.05,-.09,-.13,-.17,-.21,-.25,-.29,-.33,-.37],
  [13.35,.05,.01,-.03,-.07,-.11,-.15,-.19,-.23,-.27,-.31,-.35,-.39],[13.425,.01,-.03,-.07,-.11,-.15,-.19,-.23,-.27,-.31,-.35,-.38],
  [13.50,.03,-.01,-.05,-.09,-.13,-.17,-.21,-.25,-.29,-.33,-.37,-.39],[13.575,.00,-.04,-.08,-.12,-.16,-.20,-.24,-.28,-.32,-.36],
  [13.65,.02,-.02,-.06,-.10,-.14,-.18,-.22,-.26,-.30,-.34,-.38],[13.725,-.01,-.05,-.09,-.13,-.17,-.21,-.25,-.29,-.33,-.37],
  [13.80,.00,-.04,-.08,-.12,-.16,-.20,-.24,-.28,-.32,-.36,-.38],[13.875,-.03,-.07,-.11,-.15,-.19,-.23,-.27,-.31,-.35],
  [13.95,-.01,-.05,-.09,-.13,-.17,-.21,-.25,-.29,-.33,-.37],[14.025,-.04,-.08,-.12,-.16,-.20,-.24,-.28,-.32,-.36],
  [14.10,-.03,-.07,-.11,-.15,-.19,-.23,-.27,-.31,-.35,-.37],[14.175,-.06,-.10,-.14,-.18,-.22,-.26,-.30,-.34],
  [14.25,-.04,-.08,-.12,-.16,-.20,-.24,-.28,-.32,-.36],[14.325,-.07,-.11,-.15,-.19,-.23,-.27,-.31,-.35],
  [14.40,-.06,-.10,-.14,-.18,-.22,-.26,-.30,-.34],[14.475,-.09,-.13,-.17,-.21,-.25,-.29,-.33],
  [14.55,-.08,-.12,-.16,-.20,-.24,-.28,-.32],[14.625,-.11,-.15,-.19,-.23,-.27,-.31],
  [14.70,-.10,-.14,-.18,-.22,-.26,-.30],[14.775,-.14,-.18,-.22,-.26,-.30],
  [14.85,-.14,-.18,-.22,-.26,-.29]
];

// ---- layout ----
var margin = {top: 17, right: 9, bottom: 74, left: 71},
    width = 700, height = 553,
    w = width - margin.left - margin.right,
    h = height - margin.top - margin.bottom;

var x = d3.scaleLinear().domain([-4.97, 15.93]).range([0, w]);
var y = d3.scaleLinear().domain([-2, 4]).range([h, 0]);

// unpack [x, y, y, ...] columns into points
function unpack(cols) {
  var out = [];
  cols.forEach(function (c) {
    c.slice(1).forEach(function (v) { out.push([c[0], v]); });
  });
  return out;
}

var svg = d3.select("body").append("svg")
    .attr("width", width)
    .attr("height", height);

svg.append("defs").append("clipPath").attr("id", "plot-clip")
  .append("rect").attr("width", w).attr("height", h);

var g = svg.append("g")
    .attr("transform", "translate(" + margin.left + "," + margin.top + ")");

var plot = g.append("g").attr("clip-path", "url(#plot-clip)");

// contours
var line = d3.line().x(function (d) { return x(d[0]); }).y(function (d) { return y(d[1]); });
plot.selectAll("path.contour")
  .data(contours)
  .enter().append("path")
  .attr("class", "contour")
  .attr("d", line)
  .attr("fill", "none")
  .attr("stroke", "#000")
  .attr("stroke-opacity", 0.5)
  .attr("stroke-width", 1.7)
  .attr("stroke-linejoin", "round");

var R = 2.45, SW = 1.45;

// Liu et al. points
plot.append("g").selectAll("circle")
  .data(unpack(liuCore).concat(liuPoints))
  .enter().append("circle")
  .attr("cx", function (d) { return x(d[0]); })
  .attr("cy", function (d) { return y(d[1]); })
  .attr("r", R)
  .attr("fill", "none")
  .attr("stroke", "#0000ff")
  .attr("stroke-width", SW);

// Xiang et al. points
plot.append("g").selectAll("circle")
  .data(unpack(xiangCore).concat(xiangPoints))
  .enter().append("circle")
  .attr("cx", function (d) { return x(d[0]); })
  .attr("cy", function (d) { return y(d[1]); })
  .attr("r", R)
  .attr("fill", "none")
  .attr("stroke", "#008000")
  .attr("stroke-opacity", 0.5)
  .attr("stroke-width", SW);

// cutting line
plot.append("path")
  .datum(cutLine)
  .attr("d", line)
  .attr("fill", "none")
  .attr("stroke", "#ff0000")
  .attr("stroke-width", 2);

// axes
var xAxis = g.append("g")
  .attr("transform", "translate(0," + h + ")")
  .call(d3.axisBottom(x).tickValues(xTicks).tickSize(4.9).tickPadding(4.9).tickFormat(function (d) { return String(d); }));
var yAxis = g.append("g")
  .call(d3.axisLeft(y).tickValues(yTicks).tickSize(4.9).tickPadding(4.9).tickFormat(function (d) { return String(d); }));

[xAxis, yAxis].forEach(function (a) {
  a.select(".domain").remove();
  a.selectAll("line").attr("stroke", "#000").attr("stroke-width", 1.1);
  a.selectAll("text").attr("fill", "#000").style("font-size", "16.7px").style("font-family", "DejaVu Sans");
});

g.append("rect")
  .attr("width", w).attr("height", h)
  .attr("fill", "none").attr("stroke", "#000").attr("stroke-width", 1.1);

// axis labels
var xl = svg.append("text")
  .attr("x", margin.left + w / 2).attr("y", 533)
  .attr("text-anchor", "middle")
  .style("font-size", "20.8px");
xl.append("tspan").text("EW");
xl.append("tspan").attr("dy", "0.3em").style("font-size", "14.5px").text("Hγ");
xl.append("tspan").attr("dy", "-0.3em").text("(Å)");

var yl = svg.append("text")
  .attr("transform", "translate(33," + (margin.top + h / 2) + ") rotate(-90)")
  .attr("text-anchor", "middle")
  .style("font-size", "20.8px");
yl.append("tspan").text("EW");
yl.append("tspan").attr("dy", "0.3em").style("font-size", "14.5px").text("Fe");
yl.append("tspan").attr("dy", "-0.3em").text("(Å)");

// legend
var legend = svg.append("g");
legend.append("rect")
  .attr("x", 283).attr("y", 25).attr("width", 400).attr("height", 74)
  .attr("rx", 3)
  .attr("fill", "#fff").attr("fill-opacity", 0.8)
  .attr("stroke", "#cccccc").attr("stroke-width", 1);

var rows = legend.selectAll("g.row")
  .data(legendLabels)
  .enter().append("g")
  .attr("class", "row")
  .attr("transform", function (d, i) { return "translate(0," + (38 + i * 24) + ")"; });

rows.append("text")
  .attr("x", 335.5).attr("dy", "0.36em")
  .style("font-size", "16.7px")
  .text(function (d) { return d; });

rows.filter(function (d, i) { return i === 0; }).append("circle")
  .attr("cx", 305).attr("r", R)
  .attr("fill", "none").attr("stroke", "#0000ff").attr("stroke-width", SW);
rows.filter(function (d, i) { return i === 1; }).append("circle")
  .attr("cx", 305).attr("r", R)
  .attr("fill", "none").attr("stroke", "#008000").attr("stroke-opacity", 0.5).attr("stroke-width", SW);
rows.filter(function (d, i) { return i === 2; }).append("line")
  .attr("x1", 289).attr("x2", 322)
  .attr("stroke", "#ff0000").attr("stroke-width", 2);
</script>
</body>
</html>
